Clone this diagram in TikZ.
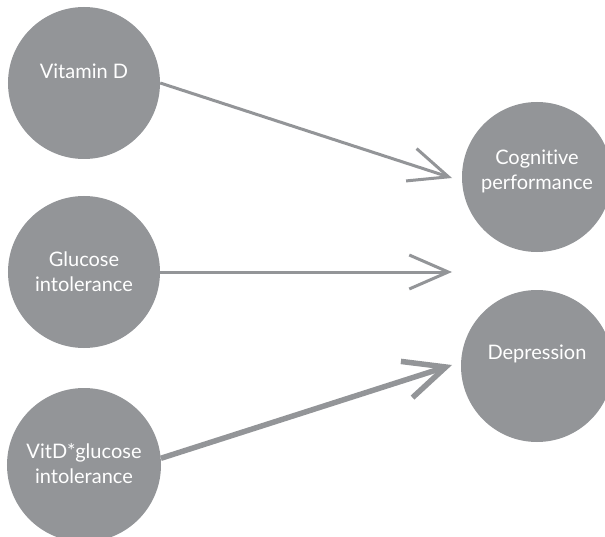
\documentclass[tikz,border=0pt]{standalone}
\usepackage{fontspec}
\setmainfont{Lato}[Ligatures={NoCommon,NoRare,NoDiscretionary}]
\usetikzlibrary{arrows.meta}
\definecolor{cgray}{HTML}{939598}
\begin{document}
\begin{tikzpicture}[x=1bp,y=-1bp,
  ball/.style={circle,fill=cgray,draw=none,minimum size=#1,inner sep=0pt},
  ball/.default=152bp,
  txt/.style={text=white,align=center,inner sep=0pt,font=\fontsize{20bp}{25bp}\selectfont},
  conn/.style={draw=cgray,line width=3bp,-{Straight Barb[length=39bp,width=34bp]}},
  connthick/.style={draw=cgray,line width=5.5bp,-{Straight Barb[length=41bp,width=38bp]}}
]
\useasboundingbox (0,0) rectangle (605,537);
\clip (0,0) rectangle (605,537);
\node[ball] (vd) at (84,83) {};
\node[ball] (gi) at (84,272) {};
\node[ball=154bp] (vg) at (84,465) {};
\node[ball=150bp] (cp) at (537,177) {};
\node[ball] (dep) at (537,366) {};
\node[txt] (vdt) at (84,71) {Vitamin D};
\node[txt] (git) at (84,272) {Glucose\\intolerance};
\node[txt] (vgt) at (84,464) {VitD*glucose\\intolerance};
\node[txt] (cpt) at (537,171) {Cognitive\\performance};
\node[txt] (dept) at (537,354) {Depression};
\coordinate (t1) at (452,178);
\coordinate (t2) at (452,272);
\coordinate (t3) at (452,365);
\draw[conn] (vd.east) -- (t1);
\draw[conn] (gi.east) -- (t2);
\draw[connthick] (vg.5) -- (t3);
\end{tikzpicture}
\end{document}
